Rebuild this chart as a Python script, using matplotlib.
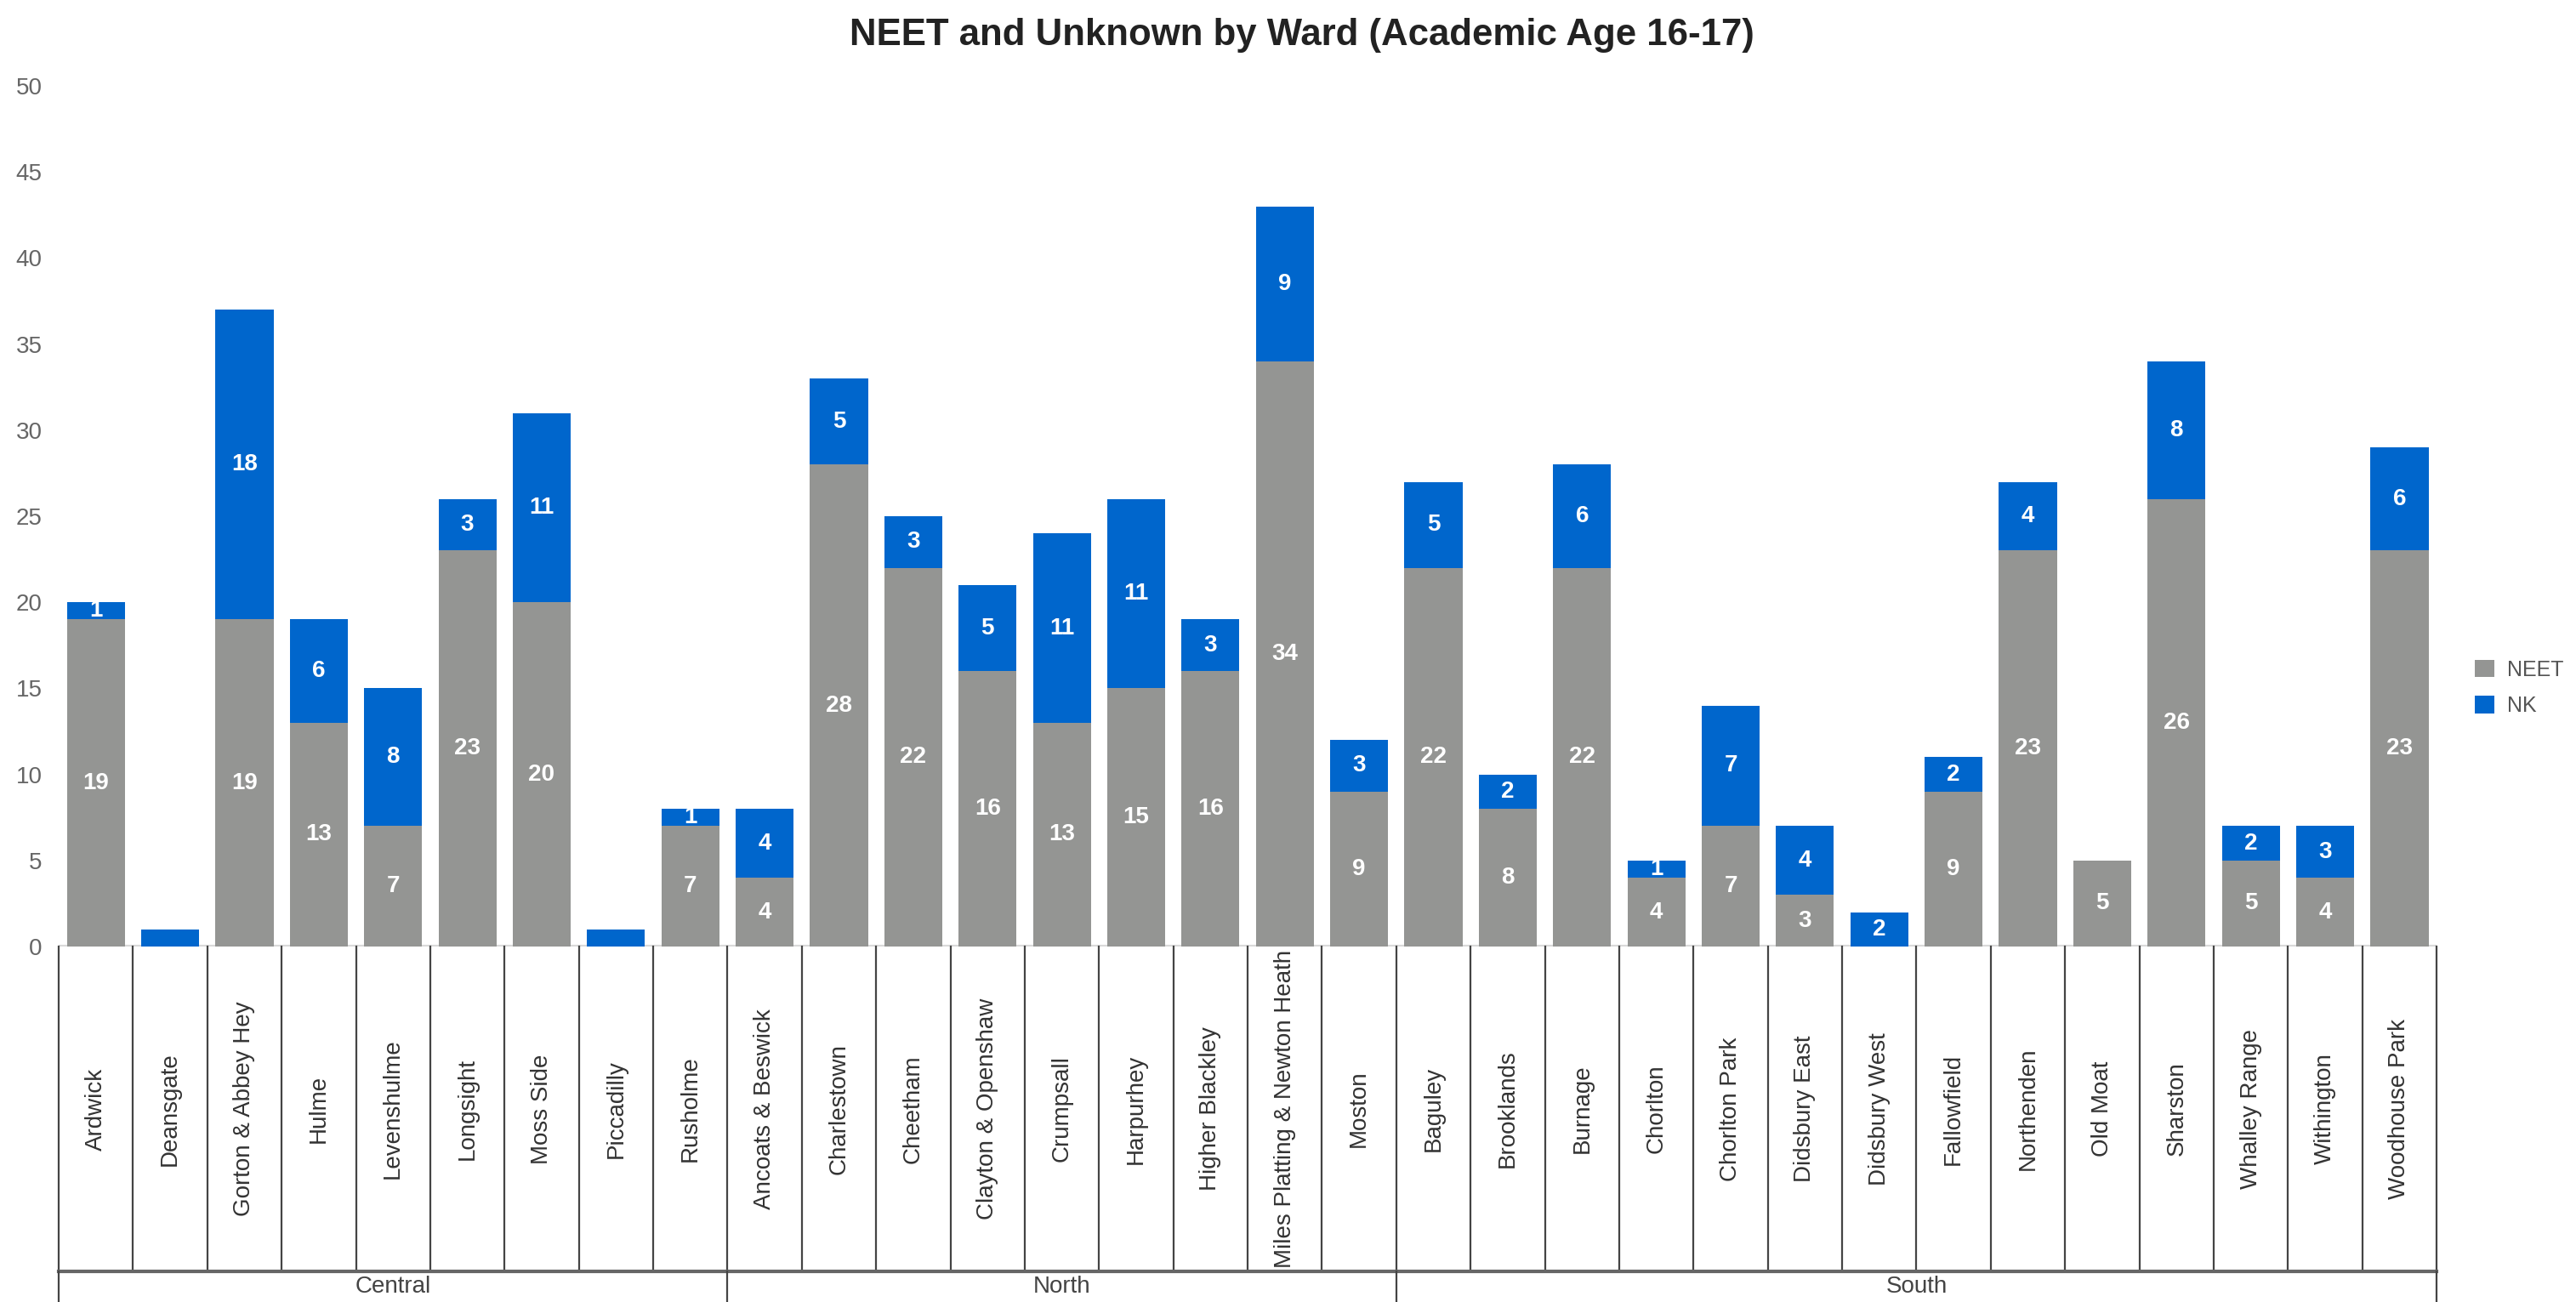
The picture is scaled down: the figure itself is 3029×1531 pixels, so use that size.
import matplotlib.pyplot as plt
import matplotlib.transforms as mtransforms

plt.rcParams['font.family'] = ['Liberation Sans', 'DejaVu Sans']

# ward names, grouped by area
wards = ['Ardwick', 'Deansgate', 'Gorton & Abbey Hey', 'Hulme', 'Levenshulme',
         'Longsight', 'Moss Side', 'Piccadilly', 'Rusholme',
         'Ancoats & Beswick', 'Charlestown', 'Cheetham', 'Clayton & Openshaw',
         'Crumpsall', 'Harpurhey', 'Higher Blackley',
         'Miles Platting & Newton Heath', 'Moston',
         'Baguley', 'Brooklands', 'Burnage', 'Chorlton', 'Chorlton Park',
         'Didsbury East', 'Didsbury West', 'Fallowfield', 'Northenden',
         'Old Moat', 'Sharston', 'Whalley Range', 'Withington', 'Woodhouse Park']
groups = ['Central', 'North', 'South']
group_sizes = [9, 9, 14]

neet = [19, 0, 19, 13, 7, 23, 20, 0, 7,
        4, 28, 22, 16, 13, 15, 16, 34, 9,
        22, 8, 22, 4, 7, 3, 0, 9, 23, 5, 26, 5, 4, 23]
nk = [1, 1, 18, 6, 8, 3, 11, 1, 1,
      4, 5, 3, 5, 11, 11, 3, 9, 3,
      5, 2, 6, 1, 7, 4, 2, 2, 4, 0, 8, 2, 3, 6]

grey = '#949593'
blue = '#0066cc'

fig = plt.figure(figsize=(30.29, 15.31), dpi=100)
ax = fig.add_axes([0.02278, 0.27302, 0.92312, 0.66101])

x = list(range(len(wards)))
ax.bar(x, neet, width=0.78, color=grey, label='NEET')
ax.bar(x, nk, width=0.78, bottom=neet, color=blue, label='NK')

# value labels inside the segments
for i in x:
    if neet[i] > 0:
        ax.text(i, neet[i] / 2, str(neet[i]), ha='center', va='center',
                color='white', fontsize=20, fontweight='bold')
    if nk[i] > 0 and (neet[i] > 0 or nk[i] > 1):
        ax.text(i, neet[i] + nk[i] / 2, str(nk[i]), ha='center', va='center',
                color='white', fontsize=20, fontweight='bold')

ax.set_xlim(-0.5, len(wards) - 0.5)
ax.set_ylim(0, 50)
ax.set_yticks(range(0, 51, 5))
ax.tick_params(axis='y', length=0, pad=14, labelsize=20, labelcolor='#666666')
ax.set_xticks([])
for s in ax.spines.values():
    s.set_visible(False)

# category table under the bars
trans = mtransforms.blended_transform_factory(ax.transData, ax.transAxes)
box_bottom = -0.3775
ax.axhline(0, color='#d9d9d9', lw=3, zorder=0)
for i in range(len(wards) + 1):
    ax.plot([i - 0.5, i - 0.5], [0, box_bottom], transform=trans,
            color='#444444', lw=1.6, clip_on=False)
for i, name in enumerate(wards):
    ax.text(i, -0.1887, name, transform=trans, rotation=90, ha='center',
            va='center', fontsize=20, color='#333333')
ax.plot([-0.5, len(wards) - 0.5], [box_bottom, box_bottom], transform=trans,
        color='#666666', lw=3, clip_on=False)

start = 0
edges = [0]
for g, n in zip(groups, group_sizes):
    ax.text(start + n / 2 - 0.5, -0.3953, g, transform=trans, ha='center',
            va='center', fontsize=20, color='#444444')
    start += n
    edges.append(start)
for e in edges:
    ax.plot([e - 0.5, e - 0.5], [box_bottom, -0.45], transform=trans,
            color='#444444', lw=1.6, clip_on=False)

fig.text(1531 / 3029, 1 - 42 / 1531,
         'NEET and Unknown by Ward (Academic Age 16-17)',
         ha='center', va='center', fontsize=31.5, fontweight='bold', color='#222222')

ax.legend(loc='center left', bbox_to_anchor=(2910 / 3029, 1 - 809 / 1531),
          bbox_transform=fig.transFigure, frameon=False, fontsize=18,
          borderpad=0, borderaxespad=0,
          handlelength=0.9, handleheight=0.9, handletextpad=0.6,
          labelspacing=0.75, labelcolor='#555555')

fig.savefig('out.png', dpi=100)
